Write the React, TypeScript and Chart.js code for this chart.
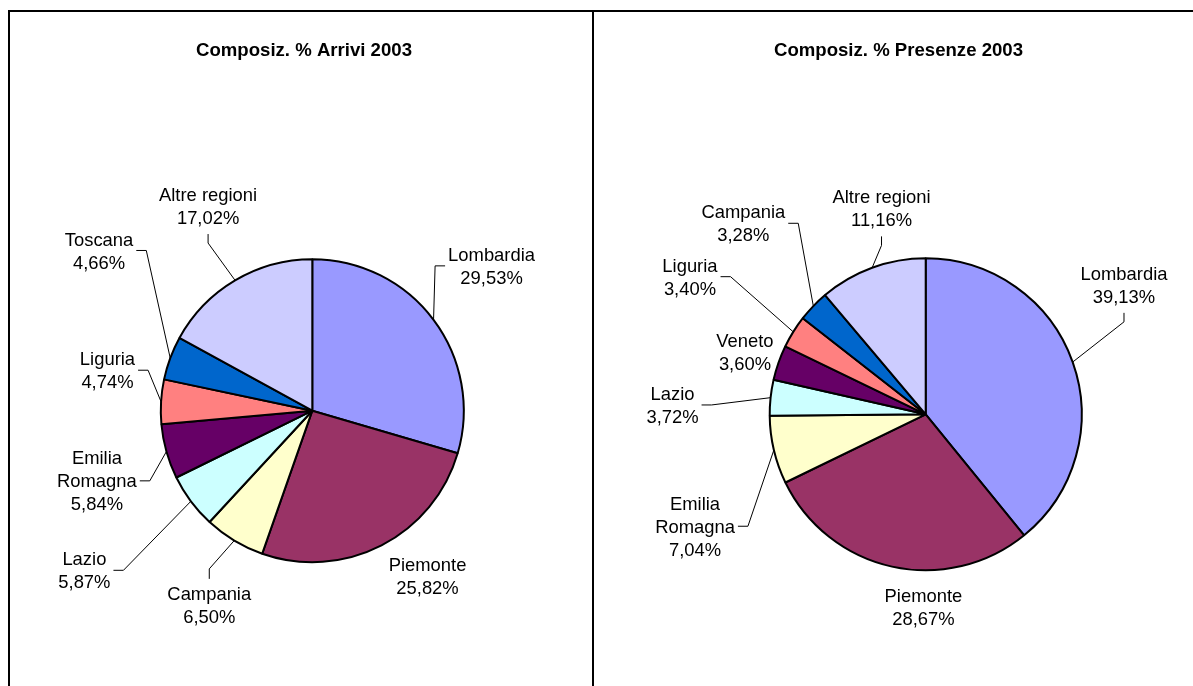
import React, { useEffect, useRef } from "react";
import { Chart, registerables } from "chart.js";

Chart.register(...registerables);

// ---------- data ----------
const arriviCategories = ["Lombardia", "Piemonte", "Campania", "Lazio", "Emilia Romagna", "Liguria", "Toscana", "Altre regioni"];
const arriviValues = [29.53, 25.82, 6.5, 5.87, 5.84, 4.74, 4.66, 17.02];

const presenzeCategories = ["Lombardia", "Piemonte", "Emilia Romagna", "Lazio", "Veneto", "Liguria", "Campania", "Altre regioni"];
const presenzeValues = [39.13, 28.67, 7.04, 3.72, 3.6, 3.4, 3.28, 11.16];

const arriviTitle = "Composiz. % Arrivi 2003";
const presenzeTitle = "Composiz. % Presenze 2003";

// ---------- styles ----------
const SLICE_COLORS = ["#9999FF", "#993366", "#FFFFCC", "#CCFFFF", "#660066", "#FF8080", "#0066CC", "#CCCCFF"];
const FONT = '"Liberation Sans", Arial, Helvetica, sans-serif';
const TITLE_SIZE = 18.6;
const LABEL_SIZE = 18.4;
const LINE_H = 23;
const CAP = 0.358; // half cap-height ratio

type Leader = "left" | "right" | "top" | "bottom" | undefined;
type LabelLayout = { dx: number; dy: number; leader?: Leader; wrap?: boolean };

// label offsets relative to the slice's outer mid-point
const arriviLabelLayout: LabelLayout[] = [
  { dx: 58, dy: -54, leader: "left" },
  { dx: 46, dy: 30 },
  { dx: -25, dy: 64.4, leader: "top" },
  { dx: -106.5, dy: 69, leader: "right" },
  { dx: -69.5, dy: 29.3, leader: "right", wrap: true },
  { dx: -53.6, dy: -31.5, leader: "right" },
  { dx: -71.2, dy: -107.6, leader: "right" },
  { dx: -27, dy: -74.4, leader: "bottom" },
];

const presenzeLabelLayout: LabelLayout[] = [
  { dx: 51.3, dy: -77.3, leader: "bottom" },
  { dx: 31.4, dy: 40.1 },
  { dx: -78.8, dy: 76.2, leader: "right", wrap: true },
  { dx: -98.1, dy: 7.3, leader: "right" },
  { dx: -33.5, dy: -11 },
  { dx: -103.3, dy: -55.2, leader: "right" },
  { dx: -70, dy: -82.8, leader: "right" },
  { dx: 9.4, dy: -59.5, leader: "bottom" },
];

const fmtPct = (v: number) => v.toFixed(2).replace(".", ",") + "%";

function makeLabelPlugin(
  title: string,
  titleX: number,
  titleY: number,
  layout: LabelLayout[],
  categories: string[],
  values: number[]
) {
  return {
    id: "sliceLabels",
    afterDatasetsDraw(chart: any) {
      const ctx: CanvasRenderingContext2D = chart.ctx;
      const meta = chart.getDatasetMeta(0);
      ctx.save();
      ctx.fillStyle = "#000";
      ctx.textAlign = "center";
      ctx.textBaseline = "alphabetic";
      ctx.font = `bold ${TITLE_SIZE}px ${FONT}`;
      ctx.fillText(title, titleX, titleY + TITLE_SIZE * CAP);

      ctx.font = `${LABEL_SIZE}px ${FONT}`;
      ctx.strokeStyle = "#000";
      ctx.lineWidth = 1;
      meta.data.forEach((el: any, i: number) => {
        const p = el.getProps(["x", "y", "startAngle", "endAngle", "outerRadius"], true);
        const mid = (p.startAngle + p.endAngle) / 2;
        const ax = p.x + Math.cos(mid) * p.outerRadius;
        const ay = p.y + Math.sin(mid) * p.outerRadius;
        const L = layout[i];
        const cx = ax + L.dx;
        const cy = ay + L.dy;
        const name = categories[i];
        const lines = (L.wrap ? name.split(" ") : [name]).concat([fmtPct(values[i])]);
        const n = lines.length;
        let maxW = 0;
        lines.forEach((t, k) => {
          const ly = cy + (k - (n - 1) / 2) * LINE_H;
          ctx.fillText(t, cx, ly + LABEL_SIZE * CAP);
          maxW = Math.max(maxW, ctx.measureText(t).width);
        });
        if (L.leader) {
          const half = LABEL_SIZE * CAP;
          const topLine = cy - ((n - 1) / 2) * LINE_H;
          const botLine = cy + ((n - 1) / 2) * LINE_H;
          let sx = cx, sy = cy, ex = cx, ey = cy;
          if (L.leader === "right") { sx = cx + maxW / 2 + 3; ex = sx + 10; }
          else if (L.leader === "left") { sx = cx - maxW / 2 - 3; ex = sx - 10; }
          else if (L.leader === "bottom") { sy = botLine + half + 10; ey = sy + 9; }
          else if (L.leader === "top") { sy = topLine - half - 8; ey = sy - 10; }
          ctx.beginPath();
          ctx.moveTo(sx, sy);
          ctx.lineTo(ex, ey);
          ctx.lineTo(ax, ay);
          ctx.stroke();
        }
      });
      ctx.restore();
    },
  };
}

type PieProps = {
  categories: string[];
  values: number[];
  title: string;
  titleX: number;
  titleY: number;
  layout: LabelLayout[];
  padding: { left: number; right: number; top: number; bottom: number };
  radius: number;
  left: number;
  top: number;
  width: number;
  height: number;
};

function PieChart(props: PieProps) {
  const ref = useRef<HTMLCanvasElement>(null);
  useEffect(() => {
    const chart = new Chart(ref.current as HTMLCanvasElement, {
      type: "pie",
      data: {
        labels: props.categories,
        datasets: [
          {
            data: props.values,
            backgroundColor: SLICE_COLORS,
            borderColor: "#000",
            borderWidth: 2,
            radius: props.radius,
          } as any,
        ],
      },
      options: {
        responsive: false,
        animation: false,
        events: [],
        layout: { padding: props.padding },
        plugins: {
          legend: { display: false },
          tooltip: { enabled: false },
          title: { display: false },
        },
      },
      plugins: [
        makeLabelPlugin(props.title, props.titleX, props.titleY, props.layout, props.categories, props.values) as any,
      ],
    });
    return () => chart.destroy();
  }, []);
  return (
    <canvas
      ref={ref}
      width={props.width}
      height={props.height}
      style={{ position: "absolute", left: props.left, top: props.top, width: props.width, height: props.height }}
    />
  );
}

export default function App() {
  return (
    <div style={{ position: "absolute", left: 0, top: 0, width: 1193, height: 686, overflow: "hidden", background: "#fff" }}>
      {/* frame lines */}
      <div style={{ position: "absolute", left: 8, top: 10, width: 1185, height: 2, background: "#000" }} />
      <div style={{ position: "absolute", left: 8, top: 10, width: 2, height: 676, background: "#000" }} />
      <div style={{ position: "absolute", left: 592, top: 10, width: 2, height: 676, background: "#000" }} />
      <PieChart
        categories={arriviCategories}
        values={arriviValues}
        title={arriviTitle}
        titleX={294}
        titleY={37}
        layout={arriviLabelLayout}
        padding={{ left: 22.6, right: 0, top: 123.4, bottom: 0 }}
        radius={151.5}
        left={10}
        top={12}
        width={582}
        height={674}
      />
      <PieChart
        categories={presenzeCategories}
        values={presenzeValues}
        title={presenzeTitle}
        titleX={304.5}
        titleY={37}
        layout={presenzeLabelLayout}
        padding={{ left: 64.4, right: 0, top: 130.6, bottom: 0 }}
        radius={156}
        left={594}
        top={12}
        width={599}
        height={674}
      />
    </div>
  );
}
